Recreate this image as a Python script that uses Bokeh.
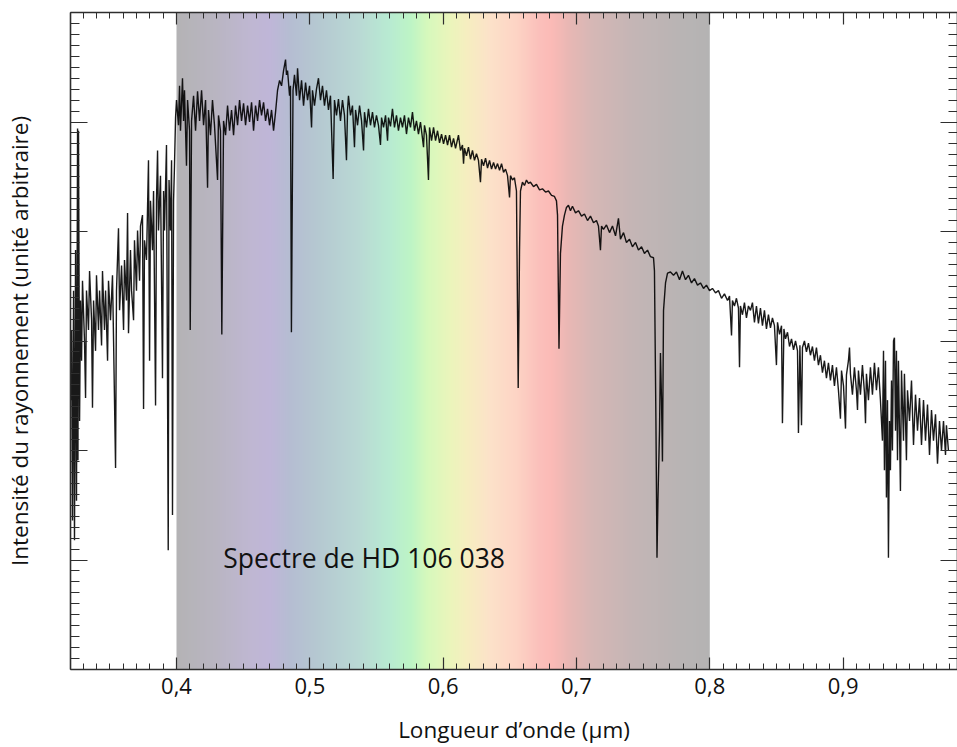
import numpy as np
from bokeh.plotting import figure
from bokeh.models import LinearAxis, FixedTicker, CustomJSTickFormatter, Label, Range1d
from bokeh.embed import file_html
from bokeh.resources import INLINE

# ---------------- data ----------------
# wavelength in micrometres, intensity in arbitrary units
uv_wl = [0.3205, 0.3213, 0.3220, 0.3228, 0.3235, 0.3243, 0.3250, 0.3258, 0.3261, 0.3265,
         0.3273, 0.3280, 0.3288, 0.3295, 0.3310, 0.3318, 0.3325, 0.3340, 0.3348, 0.3363,
         0.3370, 0.3378, 0.3393, 0.3400, 0.3415, 0.3423, 0.3438, 0.3445, 0.3460, 0.3468,
         0.3483, 0.3490, 0.3505, 0.3520, 0.3528, 0.3543, 0.3550, 0.3565, 0.3573, 0.3588,
         0.3603, 0.3610, 0.3625, 0.3633, 0.3640, 0.3655, 0.3663, 0.3678, 0.3685, 0.3700,
         0.3708, 0.3723, 0.3730, 0.3745, 0.3753, 0.3760, 0.3775, 0.3790, 0.3798, 0.3805,
         0.3820, 0.3828, 0.3843, 0.3850, 0.3858, 0.3865, 0.3880, 0.3895, 0.3903, 0.3910,
         0.3925, 0.3938, 0.3944, 0.3955, 0.3963, 0.3970, 0.3978, 0.3985, 0.3993]
uv_flux = [2.46, 3.10, 1.36, 3.46, 1.18, 3.83, 1.54, 4.94, 1.91, 4.92,
           2.27, 3.37, 2.82, 3.55, 3.00, 2.48, 3.46, 3.10, 3.64, 3.19,
           2.39, 3.37, 2.91, 3.60, 3.10, 3.46, 2.96, 3.64, 3.10, 3.46,
           2.82, 3.55, 3.19, 3.60, 3.00, 1.84, 3.46, 4.03, 3.28, 3.69,
           3.10, 3.74, 3.37, 4.17, 3.07, 3.83, 3.46, 3.19, 3.92, 3.46,
           4.01, 3.55, 4.05, 4.15, 2.38, 3.92, 3.74, 4.65, 2.82, 4.28,
           3.83, 4.37, 2.41, 4.28, 4.74, 4.01, 4.51, 2.66, 4.37, 4.01,
           4.79, 1.09, 4.47, 4.01, 4.65, 1.41, 4.28, 4.60, 5.04]

blue_wl = [0.4000, 0.4015, 0.4023, 0.4030, 0.4045, 0.4053, 0.4060, 0.4075, 0.4083, 0.4098,
           0.4103, 0.4113, 0.4128, 0.4143, 0.4158, 0.4173, 0.4188, 0.4203, 0.4218, 0.4233,
           0.4240, 0.4255, 0.4270, 0.4285, 0.4308, 0.4315, 0.4330, 0.4340, 0.4353, 0.4368,
           0.4383, 0.4398, 0.4413, 0.4428, 0.4443, 0.4458, 0.4473, 0.4488, 0.4503, 0.4518,
           0.4533, 0.4548, 0.4563, 0.4578, 0.4593, 0.4608, 0.4623, 0.4638, 0.4653, 0.4668,
           0.4683, 0.4698, 0.4713, 0.4728, 0.4743, 0.4758, 0.4773, 0.4788, 0.4803, 0.4818,
           0.4825, 0.4833, 0.4848, 0.4855, 0.4862, 0.4874, 0.4885, 0.4900, 0.4908, 0.4923]
blue_flux = [5.20, 4.97, 5.33, 4.92, 5.40, 5.01, 5.29, 4.60, 5.20, 4.92,
             3.10, 5.01, 5.24, 4.92, 5.28, 5.01, 5.29, 4.97, 5.20, 4.40,
             5.11, 4.88, 5.20, 4.97, 4.47, 5.06, 4.92, 3.06, 5.01, 4.88,
             5.15, 4.92, 5.11, 4.88, 5.15, 4.97, 5.20, 5.01, 5.17, 4.97,
             5.15, 5.00, 5.18, 4.92, 5.15, 5.01, 5.20, 5.06, 5.18, 5.01,
             5.12, 4.97, 5.11, 4.92, 5.09, 5.29, 5.38, 5.33, 5.47, 5.57,
             5.43, 5.47, 5.24, 5.33, 3.08, 5.29, 5.43, 5.24, 5.49, 5.20]

green_wl = [0.4938, 0.4953, 0.4968, 0.4983, 0.4998, 0.5013, 0.5020, 0.5035, 0.5050, 0.5065,
            0.5080, 0.5095, 0.5110, 0.5125, 0.5140, 0.5155, 0.5175, 0.5185, 0.5200, 0.5215,
            0.5230, 0.5245, 0.5260, 0.5275, 0.5283, 0.5290, 0.5305, 0.5320, 0.5335, 0.5343,
            0.5358, 0.5373, 0.5388, 0.5403, 0.5410, 0.5425, 0.5440, 0.5455, 0.5470, 0.5485,
            0.5500, 0.5515, 0.5530, 0.5538, 0.5553, 0.5568, 0.5583, 0.5590, 0.5605, 0.5620,
            0.5635, 0.5650, 0.5665, 0.5680, 0.5695, 0.5710, 0.5725, 0.5740, 0.5755, 0.5770,
            0.5785, 0.5800, 0.5815, 0.5830, 0.5853, 0.5860, 0.5875, 0.5890, 0.5898, 0.5913,
            0.5928, 0.5943, 0.5958, 0.5973, 0.5988]
green_flux = [5.38, 5.15, 5.36, 5.20, 5.33, 4.95, 5.29, 5.15, 5.30, 5.40,
              5.20, 5.33, 5.15, 5.29, 5.11, 5.24, 4.48, 5.20, 5.06, 5.21,
              5.01, 5.20, 5.06, 4.65, 5.11, 5.24, 5.06, 5.15, 4.77, 5.11,
              4.97, 5.15, 5.01, 4.74, 5.09, 4.95, 5.12, 4.97, 5.09, 4.95,
              5.06, 4.97, 4.79, 5.04, 4.95, 5.06, 4.83, 5.04, 4.96, 5.12,
              4.95, 5.06, 4.92, 5.04, 4.95, 5.06, 4.89, 5.04, 4.95, 5.09,
              4.92, 5.01, 4.89, 5.00, 4.77, 4.97, 4.88, 4.47, 4.95, 4.83,
              4.95, 4.83, 4.92, 4.81, 4.89]

red_wl = [0.6003, 0.6018, 0.6033, 0.6048, 0.6063, 0.6078, 0.6093, 0.6115, 0.6130, 0.6145,
          0.6153, 0.6160, 0.6175, 0.6190, 0.6205, 0.6220, 0.6235, 0.6250, 0.6265, 0.6280,
          0.6288, 0.6303, 0.6318, 0.6333, 0.6348, 0.6363, 0.6378, 0.6393, 0.6408, 0.6423,
          0.6438, 0.6453, 0.6468, 0.6483, 0.6498, 0.6505, 0.6520, 0.6535, 0.6550, 0.6563,
          0.6573, 0.6580, 0.6595, 0.6610, 0.6625, 0.6640, 0.6655, 0.6678, 0.6700, 0.6723,
          0.6745, 0.6768, 0.6790, 0.6813, 0.6835, 0.6850, 0.6858, 0.6869, 0.6880, 0.6895,
          0.6910, 0.6925, 0.6940, 0.6955, 0.6970, 0.6993]
red_flux = [4.80, 4.88, 4.79, 4.88, 4.77, 4.85, 4.76, 4.88, 4.74, 4.79,
            4.62, 4.76, 4.69, 4.77, 4.66, 4.74, 4.65, 4.71, 4.65, 4.45,
            4.66, 4.60, 4.67, 4.58, 4.65, 4.57, 4.63, 4.57, 4.62, 4.56,
            4.62, 4.54, 4.57, 4.51, 4.31, 4.51, 4.47, 4.49, 4.37, 2.57,
            3.83, 4.37, 4.45, 4.42, 4.47, 4.44, 4.45, 4.41, 4.43, 4.38,
            4.39, 4.36, 4.37, 4.33, 4.32, 4.28, 4.15, 2.93, 3.80, 4.05,
            4.15, 4.22, 4.24, 4.19, 4.23, 4.17]

farred_wl = [0.7015, 0.7038, 0.7060, 0.7083, 0.7105, 0.7128, 0.7150, 0.7165, 0.7180, 0.7188,
             0.7203, 0.7225, 0.7248, 0.7270, 0.7293, 0.7315, 0.7330, 0.7353, 0.7375, 0.7398,
             0.7420, 0.7443, 0.7465, 0.7488, 0.7510, 0.7533, 0.7555, 0.7578, 0.7585, 0.7596,
             0.7604, 0.7611, 0.7623, 0.7630, 0.7638, 0.7645, 0.7653, 0.7668, 0.7683, 0.7705,
             0.7728, 0.7750, 0.7773, 0.7795, 0.7818, 0.7840, 0.7863, 0.7885, 0.7908, 0.7930,
             0.7953, 0.7975, 0.7998]
farred_flux = [4.19, 4.14, 4.16, 4.10, 4.14, 4.08, 4.10, 4.05, 3.83, 4.05,
               4.02, 4.06, 3.99, 4.05, 3.96, 4.12, 3.93, 3.99, 3.90, 3.93,
               3.86, 3.90, 3.83, 3.86, 3.80, 3.83, 3.77, 3.76, 3.64, 2.27,
               1.02, 1.54, 2.18, 2.89, 2.46, 1.90, 3.28, 3.53, 3.62, 3.63,
               3.60, 3.63, 3.56, 3.64, 3.56, 3.60, 3.53, 3.57, 3.51, 3.53,
               3.48, 3.51, 3.46]

ir_wl = [0.8020, 0.8043, 0.8065, 0.8088, 0.8110, 0.8133, 0.8148, 0.8163, 0.8170, 0.8185,
         0.8200, 0.8215, 0.8223, 0.8230, 0.8245, 0.8260, 0.8275, 0.8290, 0.8305, 0.8320,
         0.8335, 0.8350, 0.8365, 0.8380, 0.8395, 0.8410, 0.8425, 0.8440, 0.8455, 0.8470,
         0.8485, 0.8500, 0.8508, 0.8523, 0.8538, 0.8545, 0.8556, 0.8568, 0.8583, 0.8598,
         0.8613, 0.8628, 0.8643, 0.8658, 0.8665, 0.8676, 0.8688, 0.8695, 0.8710, 0.8725,
         0.8740, 0.8755, 0.8770, 0.8785, 0.8800, 0.8815, 0.8830, 0.8845, 0.8860, 0.8875,
         0.8890, 0.8905, 0.8920, 0.8935, 0.8950, 0.8965, 0.8980, 0.8988, 0.9003, 0.9018,
         0.9025, 0.9040, 0.9048, 0.9055, 0.9070, 0.9085, 0.9100, 0.9108, 0.9115, 0.9130,
         0.9145, 0.9160, 0.9168, 0.9175, 0.9190, 0.9205, 0.9220, 0.9235, 0.9250, 0.9265,
         0.9280, 0.9295, 0.9303, 0.9310, 0.9318, 0.9325, 0.9333, 0.9340, 0.9348, 0.9355,
         0.9363, 0.9370, 0.9378, 0.9385, 0.9393, 0.9400, 0.9408, 0.9415, 0.9430, 0.9438,
         0.9453, 0.9460, 0.9475, 0.9483, 0.9498, 0.9513, 0.9528, 0.9543, 0.9558, 0.9573,
         0.9588, 0.9603, 0.9618, 0.9633, 0.9648, 0.9663, 0.9678, 0.9693, 0.9708, 0.9723,
         0.9738, 0.9753, 0.9768, 0.9775, 0.9790]
ir_flux = [3.48, 3.44, 3.46, 3.39, 3.43, 3.37, 3.41, 3.05, 3.37, 3.32,
           3.39, 3.30, 2.76, 3.32, 3.24, 3.35, 3.21, 3.32, 3.28, 3.35,
           3.17, 3.32, 3.16, 3.30, 3.14, 3.28, 3.11, 3.24, 3.12, 3.21,
           3.14, 2.78, 3.17, 3.06, 3.14, 2.25, 3.11, 3.02, 3.08, 2.95,
           3.02, 2.92, 3.00, 2.91, 2.16, 2.96, 2.23, 2.94, 3.00, 2.90,
           2.98, 2.87, 2.95, 2.82, 2.94, 2.78, 2.87, 2.71, 2.82, 2.66,
           2.80, 2.64, 2.78, 2.59, 2.76, 2.55, 2.29, 2.73, 2.59, 2.20,
           2.69, 2.82, 2.94, 2.70, 2.51, 2.76, 2.55, 2.37, 2.73, 2.51,
           2.78, 2.53, 2.25, 2.70, 2.46, 2.76, 2.51, 2.80, 2.55, 2.76,
           2.46, 2.09, 2.91, 1.82, 2.82, 1.57, 2.46, 1.02, 2.27, 1.82,
           2.64, 2.00, 3.00, 3.03, 2.18, 2.91, 1.91, 2.82, 1.63, 2.73,
           2.09, 2.70, 1.91, 2.55, 2.27, 2.64, 2.05, 2.51, 2.18, 2.48,
           2.05, 2.46, 2.09, 2.42, 1.96, 2.37, 2.09, 2.33, 1.88, 2.27,
           2.00, 2.27, 1.96, 2.23, 2.00]

visible_band = [0.4, 0.8]
band_stop_um = [0.400, 0.430, 0.455, 0.470, 0.485, 0.505, 0.535, 0.560, 0.575, 0.588,
                0.605, 0.618, 0.635, 0.655, 0.672, 0.682, 0.695, 0.713, 0.743, 0.780, 0.800]
band_stop_hex = ["#b4b3b5", "#b9b5c2", "#bfb7d2", "#bfb6d8", "#b5bdd2", "#b5c8d1", "#b9d8d4",
                 "#b8ebd2", "#bdf4c6", "#d6f8bc", "#ebf5bb", "#f6eec0", "#fce2c9", "#fdd4c5",
                 "#fbc0bb", "#fbbab6", "#e8b7b4", "#d5b7b5", "#c4b5b5", "#b8b4b4", "#b4b3b3"]

x_ticks = [0.4, 0.5, 0.6, 0.7, 0.8, 0.9]
x_tick_labels = ["0,4", "0,5", "0,6", "0,7", "0,8", "0,9"]
y_ticks = [0, 1, 2, 3, 4, 5, 6]

title_x = "Longueur d\u2019onde (\u00b5m)"
title_y = "Intensit\u00e9 du rayonnement (unit\u00e9 arbitraire)"
annotation = "Spectre de HD 106 038"

# ---------------- figure ----------------
X0, X1 = 0.3205, 0.9858
Y0, Y1 = 0.0, 6.0
FONT = "Open Sans"
INK = "#2e2e2e"
TXT = "#111111"

wl = uv_wl + blue_wl + green_wl + red_wl + farred_wl + ir_wl
flux = uv_flux + blue_flux + green_flux + red_flux + farred_flux + ir_flux

p = figure(width=957, height=747, x_range=Range1d(X0, X1), y_range=Range1d(Y0, Y1),
           output_backend="svg", toolbar_location=None,
           min_border_left=70, min_border_right=0, min_border_top=12, min_border_bottom=0)
p.grid.visible = False
p.outline_line_color = None
p.background_fill_color = "white"
p.border_fill_color = "white"

# gradient band (visible spectrum)
n = 800
xs = np.linspace(visible_band[0], visible_band[1], n)
rgb = np.array([[int(h[i:i + 2], 16) for i in (1, 3, 5)] for h in band_stop_hex], dtype=float)
img = np.zeros((2, n), dtype=np.uint32)
view = img.view(dtype=np.uint8).reshape((2, n, 4))
for c in range(3):
    view[:, :, c] = np.interp(xs, band_stop_um, rgb[:, c]).round().astype(np.uint8)[None, :]
view[:, :, 3] = 255
p.image_rgba(image=[img], x=visible_band[0], y=Y0,
             dw=visible_band[1] - visible_band[0], dh=Y1 - Y0)

p.line(wl, flux, line_color="black", line_alpha=0.9, line_width=1.4)

p.add_layout(Label(x=0.435, y=1.02, text=annotation, text_font=FONT,
                   text_font_size="26.5px", text_color=TXT, text_baseline="alphabetic"))

x_minor = [round(v, 2) for v in np.arange(0.32, 0.99, 0.01)]
y_minor = [round(v, 1) for v in np.arange(0, 6.01, 0.1)]

label_fmt = CustomJSTickFormatter(args=dict(tv=x_ticks, tl=x_tick_labels), code="""
const i = tv.findIndex(t => Math.abs(t - tick) < 1e-9);
return i >= 0 ? tl[i] : '';
""")
blank_fmt = CustomJSTickFormatter(code="return '';")


def style_axis(ax, major, minor):
    ax.axis_line_color = INK
    ax.axis_line_width = 1.6
    ax.major_tick_line_color = INK
    ax.minor_tick_line_color = INK
    ax.major_tick_line_width = 1.2
    ax.minor_tick_line_width = 1.0
    ax.major_tick_in = major
    ax.major_tick_out = 0
    ax.minor_tick_in = minor
    ax.minor_tick_out = 0


xb = p.xaxis[0]
xb.ticker = FixedTicker(ticks=x_ticks, minor_ticks=x_minor)
xb.formatter = label_fmt
style_axis(xb, 12, 6)
xb.major_label_text_font = FONT
xb.major_label_text_font_size = "22px"
xb.major_label_text_color = TXT
xb.major_label_standoff = 8
xb.axis_label = title_x
xb.axis_label_text_font = FONT
xb.axis_label_text_font_size = "22.5px"
xb.axis_label_text_font_style = "normal"
xb.axis_label_text_color = TXT
xb.axis_label_standoff = 17

yl = p.yaxis[0]
yl.ticker = FixedTicker(ticks=y_ticks, minor_ticks=y_minor)
yl.formatter = blank_fmt
style_axis(yl, 17, 9)
yl.major_label_text_font_size = "0px"
yl.major_label_standoff = 0
yl.axis_label = title_y
yl.axis_label_text_font = FONT
yl.axis_label_text_font_size = "22.5px"
yl.axis_label_text_font_style = "normal"
yl.axis_label_text_color = TXT
yl.axis_label_standoff = 36

xt = LinearAxis(ticker=FixedTicker(ticks=x_ticks, minor_ticks=x_minor), formatter=blank_fmt,
                major_label_text_font_size="0px", major_label_standoff=0)
style_axis(xt, 12, 6)
p.add_layout(xt, "above")

yr = LinearAxis(ticker=FixedTicker(ticks=y_ticks, minor_ticks=y_minor), formatter=blank_fmt,
                major_label_text_font_size="0px", major_label_standoff=0)
style_axis(yr, 17, 9)
p.add_layout(yr, "right")

open("out.html", "w").write(file_html(p, INLINE, title="Spectre de HD 106 038"))
